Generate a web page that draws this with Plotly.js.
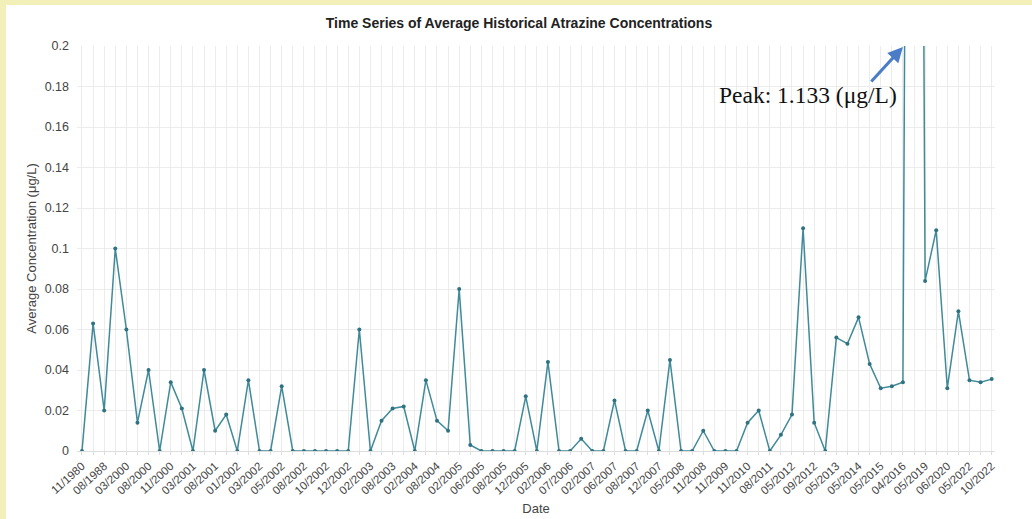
<!DOCTYPE html>
<html>
<head>
<meta charset="utf-8">
<script src="https://cdn.plot.ly/plotly-3.0.1.min.js"></script>
<style>
html,body{margin:0;padding:0;background:#f3efb8;width:1032px;height:519px;overflow:hidden;}
#chart{position:absolute;left:6px;top:5px;width:1026px;height:514px;background:#fff;}
</style>
</head>
<body>
<div id="chart"></div>
<script>
// Tick labels shown on every other sample (even indices)
const tickLabels = ["11/1980","08/1988","03/2000","08/2000","11/2000","03/2001","08/2001","01/2002","03/2002","05/2002",
  "08/2002","10/2002","12/2002","02/2003","08/2003","02/2004","08/2004","02/2005","06/2005","08/2005",
  "12/2005","02/2006","07/2006","02/2007","06/2007","08/2007","12/2007","05/2008","11/2008","11/2009",
  "11/2010","08/2011","05/2012","09/2012","05/2013","05/2014","05/2015","04/2016","05/2019","06/2020",
  "05/2022","10/2022"];

// Average atrazine concentration (µg/L) per sample, in order
const concentrations = [0, 0.063, 0.02, 0.1, 0.06, 0.014, 0.04, 0, 0.034, 0.021,
  0, 0.04, 0.01, 0.018, 0, 0.035, 0, 0, 0.032, 0,
  0, 0, 0, 0, 0, 0.06, 0, 0.015, 0.021, 0.022,
  0, 0.035, 0.015, 0.01, 0.08, 0.003, 0, 0, 0, 0,
  0.027, 0, 0.044, 0, 0, 0.006, 0, 0, 0.025, 0,
  0, 0.02, 0, 0.045, 0, 0, 0.01, 0, 0, 0,
  0.014, 0.02, 0, 0.008, 0.018, 0.11, 0.014, 0, 0.056, 0.053,
  0.066, 0.043, 0.031, 0.032, 0.034, 1.133, 0.084, 0.109, 0.031, 0.069,
  0.035, 0.034, 0.0355];

const peakLabel = "Peak: 1.133 (μg/L)";

const idx = concentrations.map((_, i) => i);
const tickText = idx.map(i => (i % 2 === 0 ? tickLabels[i / 2] : ""));

const trace = {
  x: idx,
  y: concentrations,
  type: "scatter",
  mode: "lines+markers",
  line: {color: "#408a99", width: 1.5},
  marker: {color: "#2f7282", size: 4},
  hoverinfo: "y"
};

const layout = {
  width: 1026,
  height: 514,
  paper_bgcolor: "#ffffff",
  plot_bgcolor: "#ffffff",
  margin: {l: 71, r: 37, t: 41, b: 68},
  showlegend: false,
  font: {family: "Liberation Sans, Arial, sans-serif", color: "#444"},
  title: {
    text: "<b>Time Series of Average Historical Atrazine Concentrations</b>",
    font: {size: 14, color: "#222"},
    x: 0.5, xref: "container", xanchor: "center",
    y: 1 - 18 / 514, yref: "container", yanchor: "middle"
  },
  xaxis: {
    range: [-0.45, 82.3],
    tickmode: "array",
    tickvals: idx,
    ticktext: tickText,
    tickangle: -42,
    tickfont: {size: 11.5, color: "#444"},
    showgrid: true,
    gridcolor: "#ececec",
    gridwidth: 1,
    zeroline: false,
    showline: false,
    ticks: "outside",
    ticklen: 3,
    tickcolor: "#dddddd",
    automargin: false,
    title: {text: "Date", font: {size: 13, color: "#444"}, standoff: 8}
  },
  yaxis: {
    range: [0, 0.2],
    dtick: 0.02,
    tickformat: "",
    tickfont: {size: 12.5, color: "#444"},
    showgrid: true,
    gridcolor: "#ececec",
    zeroline: true,
    zerolinecolor: "#dddddd",
    showline: false,
    ticks: "",
    ticklabelstandoff: 7,
    automargin: false,
    title: {text: "Average Concentration (μg/L)", font: {size: 13, color: "#444"}, standoff: 5}
  },
  annotations: [
    {
      x: 57.2, y: 0.1757, xref: "x", yref: "y",
      text: peakLabel, showarrow: false,
      xanchor: "left", yanchor: "middle",
      font: {family: "Liberation Serif, Times New Roman, serif", size: 23.5, color: "#111"}
    },
    {
      x: 74.0, y: 0.1995, xref: "x", yref: "y",
      text: "", showarrow: true,
      ax: -33, ay: 36,
      arrowhead: 2, arrowsize: 1, arrowwidth: 3,
      arrowcolor: "#4a7cc8"
    }
  ]
};

Plotly.newPlot("chart", [trace], layout, {displayModeBar: false, staticPlot: true});
</script>
</body>
</html>
